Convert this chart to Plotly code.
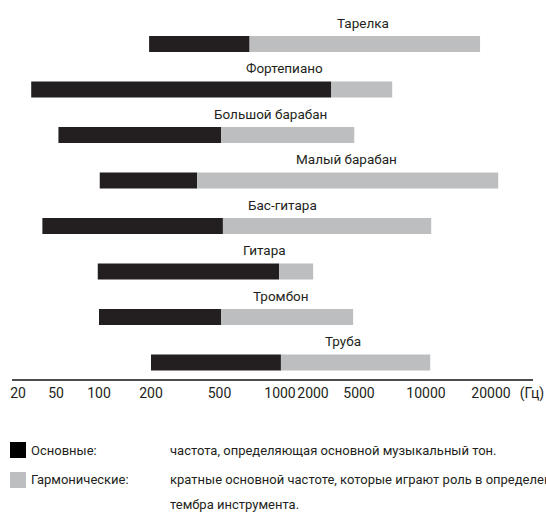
import numpy as np
import plotly.graph_objects as go

# ---------------- data ----------------
instruments = ["Тарелка", "Фортепиано", "Большой барабан", "Малый барабан",
               "Бас-гитара", "Гитара", "Тромбон", "Труба"]
fund_low_hz = [195, 27.5, 52, 101, 36, 98, 100, 200]        # start of fundamental range
fund_high_hz = [706, 2880, 510, 371, 520, 990, 510, 1020]   # end of fundamental / start of harmonics
harm_high_hz = [17800, 7050, 4550, 21600, 10570, 2005, 4450, 10460]  # end of harmonics

tick_hz = [20, 50, 100, 200, 500, 1000, 2000, 5000, 10000, 20000]
tick_text = ["20", "50", "100", "200", "500", "1000", "2000", "5000", "10000", "20000"]
unit_text = "(Гц)"

legend_names = ["Основные:", "Гармонические:"]
legend_desc = ["частота, определяющая основной музыкальный тон.",
               "кратные основной частоте, которые играют роль в определении",
               "тембра инструмента."]

# ---------------- axis scale (irregular log-like scale of the original) ----------------
TICK_POS = [18, 56, 99, 151, 219.5, 280, 313, 359, 426, 491]
UNIT_POS = 532
LV = np.log10(tick_hz)


def scale(values):
    lg = np.log10(np.asarray(values, dtype=float))
    out = np.interp(lg, LV, TICK_POS)
    hi_slope = (TICK_POS[-1] - TICK_POS[-2]) / (LV[-1] - LV[-2])
    lo_slope = (TICK_POS[1] - TICK_POS[0]) / (LV[1] - LV[0])
    out = np.where(lg > LV[-1], TICK_POS[-1] + (lg - LV[-1]) * hi_slope, out)
    out = np.where(lg < LV[0], TICK_POS[0] + (lg - LV[0]) * lo_slope, out)
    return out


BLACK = "#231f20"
GREY = "#bcbec0"
TEXT = "#231f20"
FONT = "Roboto, sans-serif"

y_idx = list(range(len(instruments)))
lo = scale(fund_low_hz)
mid = scale(fund_high_hz)
hi = scale(harm_high_hz)

fig = go.Figure()
fig.add_trace(go.Bar(orientation="h", y=y_idx, base=lo, x=mid - lo, width=0.35,
                     marker=dict(color=BLACK, line=dict(width=0)), name="Основные",
                     customdata=np.c_[fund_low_hz, fund_high_hz],
                     hovertemplate="%{customdata[0]}–%{customdata[1]} Гц<extra></extra>"))
fig.add_trace(go.Bar(orientation="h", y=y_idx, base=mid, x=hi - mid, width=0.35,
                     marker=dict(color=GREY, line=dict(width=0)), name="Гармонические",
                     customdata=np.c_[fund_high_hz, harm_high_hz],
                     hovertemplate="%{customdata[0]}–%{customdata[1]} Гц<extra></extra>"))

label_x = [363, 284.5, 270, 346, 282, 264, 281, 343]
annotations = []
for i, name in enumerate(instruments):
    annotations.append(dict(x=label_x[i], y=i - 0.47, xref="x", yref="y", text=name,
                            showarrow=False, xanchor="center", yanchor="middle",
                            font=dict(family=FONT, size=13.5, color=TEXT)))

# legend block below the axis
L, R, T, B = 12, 13, 0, 136
W, H = 546 - L - R, 515 - T - B


def px(xp):
    return (xp - L) / W


def py(yp):
    return (H + T - yp) / H


shapes = [
    dict(type="rect", xref="paper", yref="paper", x0=px(10), x1=px(26), y0=py(458), y1=py(442),
         fillcolor="#000000", line=dict(width=0)),
    dict(type="rect", xref="paper", yref="paper", x0=px(10), x1=px(26), y0=py(488), y1=py(472),
         fillcolor=GREY, line=dict(width=0)),
]
for txt, xp, yp in [(legend_names[0], 29, 450), (legend_names[1], 29, 479),
                    (legend_desc[0], 168, 450), (legend_desc[1], 168, 479),
                    (legend_desc[2], 168, 504)]:
    annotations.append(dict(x=px(xp), y=py(yp), xref="paper", yref="paper", text=txt,
                            showarrow=False, xanchor="left", yanchor="middle",
                            font=dict(family=FONT, size=13, color=TEXT)))

fig.update_layout(
    width=546, height=515,
    margin=dict(l=L, r=R, t=T, b=B, autoexpand=False),
    paper_bgcolor="white", plot_bgcolor="white",
    barmode="overlay", showlegend=False,
    xaxis=dict(range=[L, 546 - R], showgrid=False, zeroline=False, automargin=False,
               showline=True, linecolor="#4d4d4d", linewidth=2,
               tickmode="array", tickvals=TICK_POS + [UNIT_POS],
               ticktext=tick_text + [unit_text], ticks="", tickangle=0,
               tickfont=dict(family=FONT, size=14, color=TEXT)),
    yaxis=dict(range=[7.363, -0.967], visible=False, showgrid=False, zeroline=False),
    shapes=shapes, annotations=annotations,
)

fig.write_html("out.html", config={"displayModeBar": False},
               post_script="document.body.style.margin='0';")
